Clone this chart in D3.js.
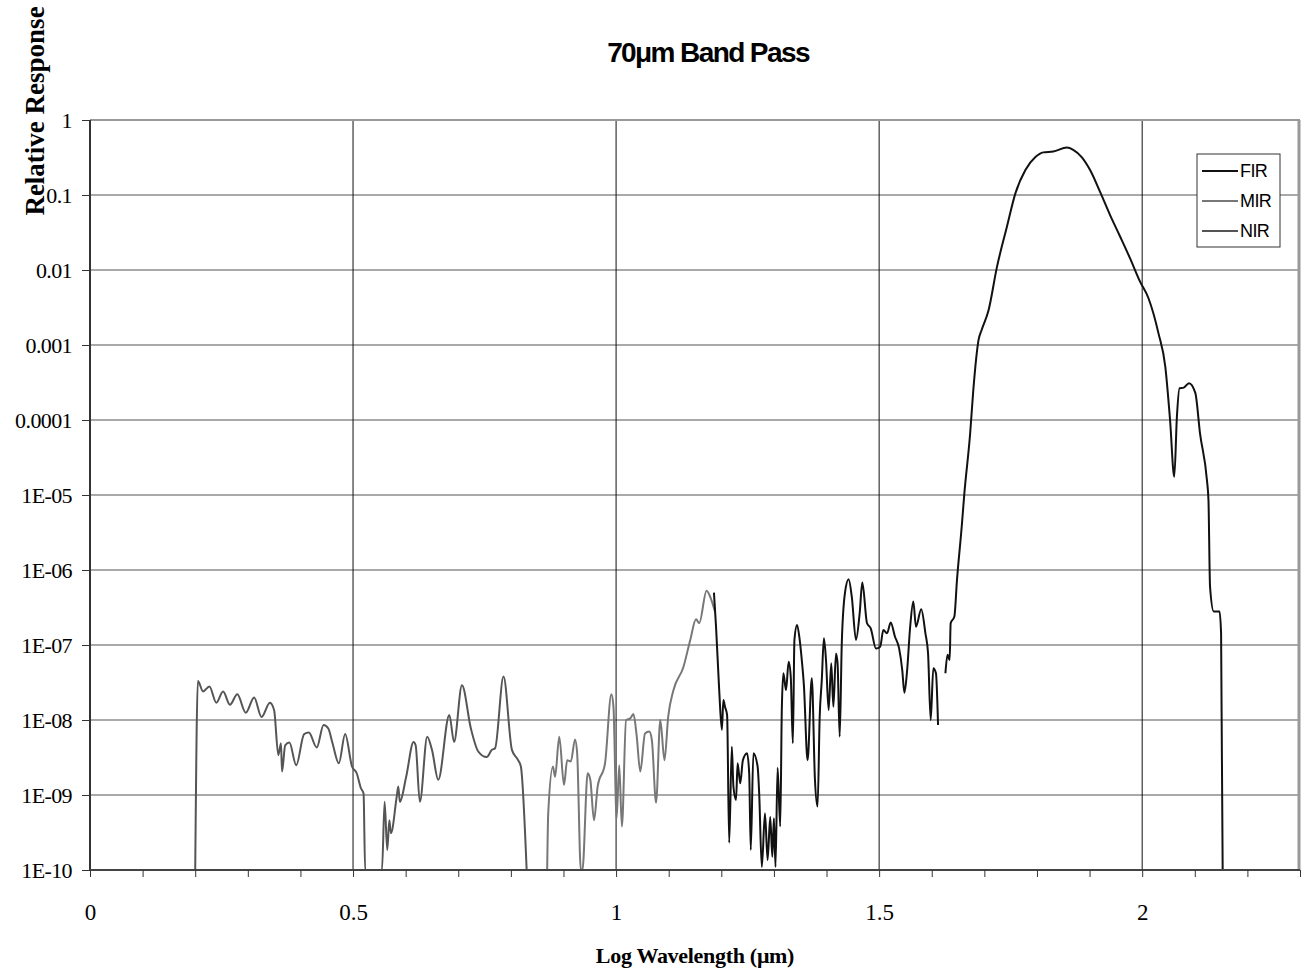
<!DOCTYPE html>
<html>
<head>
<meta charset="utf-8">
<script src="https://cdn.jsdelivr.net/npm/d3@7"></script>
<style>
  body { margin: 0; background: #fff; }
  svg { display: block; }
</style>
</head>
<body>
<div id="graph1"></div>
<script>
// log wavelength (um), relative response
var nir = [
  [0.200,1e-10],[0.205,3.3e-8],[0.215,2.4e-8],[0.227,2.8e-8],[0.240,1.7e-8],[0.253,2.4e-8],
  [0.266,1.6e-8],[0.280,2.2e-8],[0.296,1.25e-8],[0.312,2.0e-8],[0.326,1.1e-8],[0.342,1.7e-8],
  [0.350,1.35e-8],[0.358,3.4e-9],[0.363,4.9e-9],[0.365,2.05e-9],[0.371,4.6e-9],[0.379,5.0e-9],
  [0.392,2.5e-9],[0.407,6.5e-9],[0.416,6.8e-9],[0.431,4.3e-9],[0.444,8.6e-9],[0.453,7.7e-9],
  [0.461,4.9e-9],[0.473,2.65e-9],[0.485,6.5e-9],[0.498,2.4e-9],[0.507,1.95e-9],[0.515,1.23e-9],
  [0.520,1.05e-9],[0.523,1e-10],[0.555,1e-10],[0.560,8.1e-10],[0.565,1.85e-10],[0.569,4.6e-10],
  [0.572,3.1e-10],[0.583,9.5e-10],[0.586,1.3e-9],[0.589,8.1e-10],[0.601,1.75e-9],[0.615,5.1e-9],
  [0.619,4.6e-9],[0.627,8.1e-10],[0.641,6.0e-9],[0.650,4.0e-9],[0.662,1.6e-9],[0.683,1.17e-8],
  [0.692,5.1e-9],[0.707,2.9e-8],[0.724,7.7e-9],[0.738,3.8e-9],[0.754,3.2e-9],[0.764,4.0e-9],
  [0.770,4.2e-9],[0.786,3.8e-8],[0.802,4.0e-9],[0.814,2.9e-9],[0.819,2.4e-9],[0.830,1e-10]
];

var mir = [
  [0.869,1e-10],[0.871,5.7e-10],[0.880,2.4e-9],[0.884,1.75e-9],[0.892,6.0e-9],[0.901,1.36e-9],
  [0.907,2.9e-9],[0.914,2.8e-9],[0.922,5.5e-9],[0.926,3.6e-9],[0.933,1e-10],[0.936,1e-10],
  [0.946,1.95e-9],[0.951,1.6e-9],[0.958,4.6e-10],[0.965,1.3e-9],[0.979,2.65e-9],[0.991,2.2e-8],
  [0.995,1.5e-8],[1.001,4.9e-10],[1.006,2.5e-9],[1.011,3.8e-10],[1.019,1.0e-8],[1.027,1.05e-8],
  [1.033,1.2e-8],[1.039,6.3e-9],[1.046,2.05e-9],[1.055,6.6e-9],[1.063,7.0e-9],[1.068,5.4e-9],
  [1.076,7.9e-10],[1.084,1.0e-8],[1.092,2.9e-9],[1.099,1.1e-8],[1.109,2.5e-8],[1.128,5.1e-8],
  [1.141,1.17e-7],[1.152,2.2e-7],[1.158,1.95e-7],[1.172,5.3e-7],[1.180,4.2e-7],[1.188,2.8e-7]
];

var fir = [
  [1.186,5.0e-7],[1.190,1.75e-7],[1.196,2.5e-8],[1.201,7.4e-9],[1.204,1.85e-8],[1.207,1.5e-8],
  [1.211,1.17e-8],[1.215,2.3e-10],[1.220,4.4e-9],[1.223,1.3e-9],[1.228,8.6e-10],[1.231,2.65e-9],
  [1.236,1.43e-9],[1.241,2.9e-9],[1.249,3.6e-9],[1.253,1.95e-9],[1.256,1.85e-10],[1.261,3.6e-9],
  [1.269,2.4e-9],[1.272,1.05e-9],[1.277,1.1e-10],[1.283,5.7e-10],[1.288,1.36e-10],[1.293,5.1e-10],
  [1.297,1.5e-10],[1.300,4.9e-10],[1.303,1.1e-10],[1.307,2.3e-9],[1.312,3.8e-10],[1.315,1.36e-8],
  [1.318,4.2e-8],[1.323,2.5e-8],[1.328,6.0e-8],[1.332,3.8e-8],[1.336,4.9e-9],[1.339,1.17e-7],
  [1.344,1.85e-7],[1.349,1.17e-7],[1.353,6.3e-8],[1.357,2.9e-8],[1.364,2.9e-9],[1.372,3.6e-8],
  [1.378,1.6e-9],[1.383,7.0e-10],[1.387,1.1e-8],[1.391,3.4e-8],[1.395,1.23e-7],[1.399,6.3e-8],
  [1.404,1.36e-8],[1.409,5.7e-8],[1.413,1.5e-8],[1.418,7.7e-8],[1.421,5.7e-8],[1.425,6.0e-9],
  [1.429,1.05e-7],[1.435,4.9e-7],[1.442,7.5e-7],[1.448,4.4e-7],[1.456,1.17e-7],[1.463,2.65e-7],
  [1.468,6.8e-7],[1.477,1.95e-7],[1.484,1.67e-7],[1.494,9.0e-8],[1.502,9.5e-8],[1.508,1.58e-7],
  [1.515,1.43e-7],[1.522,2.0e-7],[1.530,1.3e-7],[1.538,9.0e-8],[1.544,4.6e-8],[1.548,2.3e-8],
  [1.553,4.4e-8],[1.559,1.75e-7],[1.565,3.8e-7],[1.570,1.75e-7],[1.580,3.0e-7],[1.588,1.43e-7],
  [1.593,7.7e-8],[1.598,1.0e-8],[1.603,4.9e-8],[1.608,4.2e-8],[1.612,8.6e-9],[1.619,null],
  [1.626,4.2e-8],[1.630,7.4e-8],[1.634,6.3e-8],[1.636,1.95e-7],[1.643,2.4e-7],[1.648,7.4e-7],
  [1.657,3.8e-6],[1.662,1.05e-5],[1.673,6.6e-5],[1.679,2.5e-4],[1.689,1.17e-3],[1.695,1.6e-3],
  [1.708,2.9e-3],[1.724,1.1e-2],[1.743,3.8e-2],[1.759,0.105],[1.778,0.215],[1.797,0.32],
  [1.812,0.37],[1.831,0.38],[1.857,0.43],[1.869,0.40],[1.885,0.32],[1.901,0.215],
  [1.920,0.11],[1.939,0.054],[1.958,0.028],[1.977,0.0143],[1.996,0.0070],[2.012,0.0042],
  [2.031,0.00143],[2.044,5.1e-4],[2.053,1.0e-4],[2.061,1.75e-5],[2.066,1.1e-4],[2.071,2.65e-4],
  [2.079,2.7e-4],[2.089,3.1e-4],[2.101,2.3e-4],[2.110,6.6e-5],[2.123,1.6e-5],[2.126,8.6e-6],
  [2.129,6.0e-7],[2.136,2.8e-7],[2.147,2.8e-7],[2.150,1.43e-7],[2.153,1e-10]
];

var yTickValues = [1, 0.1, 0.01, 0.001, 0.0001, 1e-5, 1e-6, 1e-7, 1e-8, 1e-9, 1e-10];
var yTickLabels = ["1", "0.1", "0.01", "0.001", "0.0001", "1E-05", "1E-06", "1E-07", "1E-08", "1E-09", "1E-10"];
var xMajorTicks = [0, 0.5, 1, 1.5, 2];
var xTickLabels = ["0", "0.5", "1", "1.5", "2"];
var seriesNames = ["FIR", "MIR", "NIR"];
var seriesColors = ["#111111", "#777777", "#555555"];

var svg = d3.select("#graph1")
  .append("svg")
    .attr("width", 1303)
    .attr("height", 976);

var plotLeft = 90, plotRight = 1300, plotTop = 120, plotBottom = 870;

var x = d3.scaleLinear().domain([0, 2.3]).range([plotLeft, plotRight]);
var y = d3.scaleLog().domain([1e-10, 1]).range([plotBottom, plotTop]).clamp(true);

// grid lines
svg.append("g").selectAll("line")
  .data(yTickValues.slice(1, -1))
  .enter().append("line")
    .attr("x1", plotLeft).attr("x2", plotRight)
    .attr("y1", function(d) { return y(d); })
    .attr("y2", function(d) { return y(d); })
    .attr("stroke", "#555").attr("stroke-width", 1.2);

svg.append("g").selectAll("line")
  .data(xMajorTicks.slice(1))
  .enter().append("line")
    .attr("x1", function(d) { return x(d); })
    .attr("x2", function(d) { return x(d); })
    .attr("y1", plotTop).attr("y2", plotBottom)
    .attr("stroke", "#111").attr("stroke-width", 1);

// the curves
var valueline = d3.line()
  .defined(function(d) { return d[1] != null; })
  .curve(d3.curveMonotoneX)
  .x(function(d) { return x(d[0]); })
  .y(function(d) { return y(d[1]); });

[[nir, 2], [mir, 1], [fir, 0]].forEach(function(s) {
  svg.append("path")
    .attr("d", valueline(s[0]))
    .attr("fill", "none")
    .attr("stroke", seriesColors[s[1]])
    .attr("stroke-width", 2)
    .attr("stroke-linejoin", "round");
});

// frame
svg.append("line").attr("x1", plotLeft).attr("x2", plotRight).attr("y1", plotTop).attr("y2", plotTop)
  .attr("stroke", "#999").attr("stroke-width", 2);
svg.append("line").attr("x1", plotRight - 1).attr("x2", plotRight - 1).attr("y1", plotTop).attr("y2", plotBottom)
  .attr("stroke", "#999").attr("stroke-width", 3);

// axes
var yAxis = d3.axisLeft(y)
  .tickValues(yTickValues)
  .tickFormat(function(d, i) { return yTickLabels[i]; })
  .tickSize(8).tickPadding(10);

var gy = svg.append("g")
  .attr("transform", "translate(" + plotLeft + ",0)")
  .call(yAxis);
gy.select(".domain").attr("stroke", "#333").attr("stroke-width", 2).attr("d", "M0," + plotTop + "V" + plotBottom);
gy.selectAll(".tick line").attr("stroke", "#333");
gy.selectAll("text").attr("font-family", "'Liberation Serif', 'Times New Roman', serif")
  .attr("font-size", 22).attr("letter-spacing", -0.6).attr("fill", "#000");

var xAxis = d3.axisBottom(x)
  .tickValues(d3.range(0, 24).map(function(i) { return i / 10; }))
  .tickFormat(function(d) {
    var k = xMajorTicks.findIndex(function(m) { return Math.abs(m - d) < 1e-9; });
    return k >= 0 ? xTickLabels[k] : "";
  })
  .tickSize(7).tickPadding(27);

var gx = svg.append("g")
  .attr("transform", "translate(0," + plotBottom + ")")
  .call(xAxis);
gx.select(".domain").attr("stroke", "#444").attr("stroke-width", 2).attr("d", "M" + plotLeft + ",0H" + plotRight);
gx.selectAll(".tick line").attr("stroke", "#333");
gx.selectAll("text").attr("font-family", "'Liberation Serif', 'Times New Roman', serif")
  .attr("font-size", 23).attr("fill", "#000");

// titles
svg.append("text")
  .attr("x", 708).attr("y", 62)
  .attr("text-anchor", "middle")
  .attr("font-family", "'Liberation Sans', Arial, sans-serif")
  .attr("font-weight", "bold").attr("font-size", 28)
  .attr("letter-spacing", -1.6)
  .text("70μm Band Pass");

svg.append("text")
  .attr("x", 695).attr("y", 963)
  .attr("text-anchor", "middle")
  .attr("font-family", "'Liberation Serif', 'Times New Roman', serif")
  .attr("font-weight", "bold").attr("font-size", 22)
  .attr("letter-spacing", -0.3)
  .text("Log Wavelength (μm)");

svg.append("text")
  .attr("transform", "translate(44,111) rotate(-90)")
  .attr("text-anchor", "middle")
  .attr("font-family", "'Liberation Serif', 'Times New Roman', serif")
  .attr("font-weight", "bold").attr("font-size", 27)
  .text("Relative Response");

// legend
var legend = svg.append("g").attr("transform", "translate(1197,154)");
legend.append("rect")
  .attr("width", 83).attr("height", 93)
  .attr("fill", "#fff").attr("stroke", "#333").attr("stroke-width", 1);

var item = legend.selectAll(".item")
  .data(seriesNames)
  .enter().append("g")
    .attr("transform", function(d, i) { return "translate(0," + (17 + i * 30) + ")"; });
item.append("line")
  .attr("x1", 5).attr("x2", 41)
  .attr("stroke", function(d, i) { return seriesColors[i]; })
  .attr("stroke-width", 2);
item.append("text")
  .attr("x", 43).attr("y", 6)
  .attr("font-family", "'Liberation Sans', Arial, sans-serif")
  .attr("font-size", 18).attr("letter-spacing", -0.6)
  .text(function(d) { return d; });
</script>
</body>
</html>
